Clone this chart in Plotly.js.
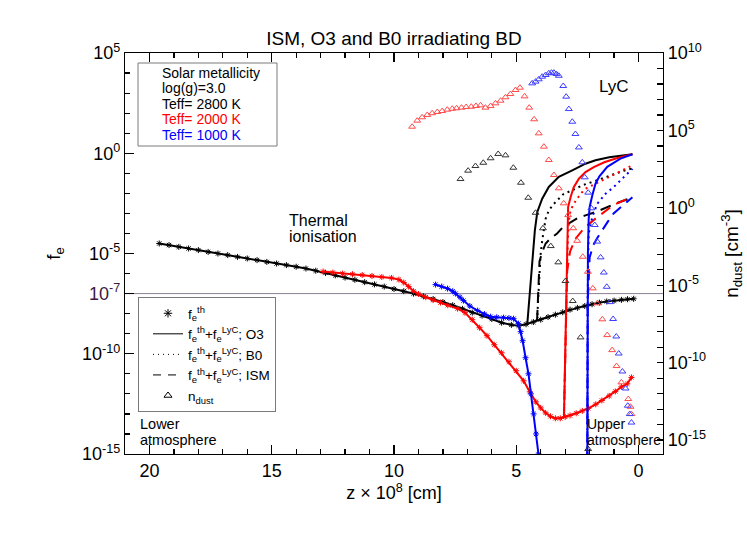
<!DOCTYPE html>
<html>
<head>
<meta charset="utf-8">
<script src="https://cdn.plot.ly/plotly-3.0.1.min.js"></script>
<style>
  html, body { margin: 0; padding: 0; background: #fff; }
  #chart { width: 747px; height: 534px; }
</style>
</head>
<body>
<div id="chart"></div>
<script>
// z in 1e8 cm, f_e and n_dust given as log10 values

// thermal ionisation (stars)
const zThBlack = [19.6, 19.2, 18.8, 18.4, 18.0, 17.6, 17.2, 16.8, 16.4, 16.0, 15.6, 15.2, 14.8, 14.4, 14.0, 13.6, 13.2, 12.8, 12.4, 12.0, 11.6, 11.2, 10.8, 10.4, 10.0, 9.6, 9.2, 8.8, 8.4, 8.0, 7.6, 7.2, 6.8, 6.4, 6.0, 5.6, 5.2, 4.9, 4.6, 4.3, 4.0, 3.7, 3.4, 3.1, 2.8, 2.5, 2.2, 1.9, 1.6, 1.3, 1.0, 0.7, 0.45, 0.2];
const lfThBlack = [-4.50, -4.58, -4.67, -4.75, -4.83, -4.92, -5.00, -5.08, -5.17, -5.25, -5.33, -5.42, -5.50, -5.58, -5.66, -5.75, -5.86, -5.97, -6.09, -6.20, -6.31, -6.43, -6.54, -6.65, -6.77, -6.88, -7.00, -7.13, -7.27, -7.42, -7.58, -7.76, -7.95, -8.10, -8.27, -8.45, -8.56, -8.60, -8.53, -8.42, -8.30, -8.17, -8.05, -7.93, -7.80, -7.71, -7.62, -7.53, -7.45, -7.39, -7.35, -7.31, -7.28, -7.26];

const zThRed = [12.9, 12.5, 12.1, 11.7, 11.3, 10.9, 10.5, 10.1, 9.8, 9.6, 9.4, 9.2, 9.0, 8.7, 8.4, 8.1, 7.8, 7.4, 7.1, 6.8, 6.5, 6.2, 5.9, 5.6, 5.3, 5.0, 4.7, 4.45, 4.2, 4.0, 3.8, 3.6, 3.4, 3.2, 3.0, 2.8, 2.55, 2.3, 2.05, 1.75, 1.5, 1.2, 0.95, 0.7, 0.46, 0.29];
const lfThRed = [-5.90, -5.95, -6.00, -6.03, -6.07, -6.12, -6.17, -6.22, -6.30, -6.45, -6.65, -6.88, -7.02, -7.18, -7.32, -7.45, -7.58, -7.75, -7.95, -8.30, -8.70, -9.10, -9.55, -9.95, -10.40, -10.85, -11.35, -11.90, -12.40, -12.70, -12.95, -13.12, -13.22, -13.22, -13.15, -13.08, -12.97, -12.85, -12.72, -12.52, -12.33, -12.10, -11.88, -11.65, -11.50, -11.18];

const zThBlue = [8.3, 8.05, 7.81, 7.6, 7.48, 7.3, 7.16, 6.9, 6.58, 6.3, 6.05, 5.8, 5.52, 5.3, 5.11, 4.91, 4.82, 4.74, 4.62, 4.5, 4.4, 4.29, 4.19, 4.09, 4.0];
const lfThBlue = [-6.55, -6.65, -6.75, -6.88, -7.0, -7.18, -7.35, -7.62, -7.85, -8.02, -8.15, -8.18, -8.2, -8.22, -8.25, -8.5, -8.9, -9.35, -10.2, -11.0, -12.0, -13.0, -14.0, -15.0, -15.9];

// thermal + LyC, O3 (solid)
const zO3Black = [4.55, 4.32, 4.24, 4.14, 3.94, 3.67, 3.26, 2.71, 2.17, 1.76, 1.2, 0.25];
const lfO3Black = [-8.52, -5.35, -3.85, -2.93, -2.27, -1.68, -1.18, -0.85, -0.52, -0.35, -0.2, -0.05];
const zO3Red = [3.05, 2.99, 2.94, 2.91, 2.88, 2.78, 2.65, 2.44, 2.17, 1.83, 1.4, 0.9, 0.25];
const lfO3Red = [-13.18, -9.0, -5.4, -3.5, -2.68, -2.19, -1.69, -1.27, -0.94, -0.69, -0.45, -0.25, -0.05];
const zO3Blue = [2.10, 2.09, 2.07, 2.04, 2.00, 1.89, 1.76, 1.60, 1.28, 0.74, 0.25];
const lfO3Blue = [-18, -9, -5.0, -3.3, -2.68, -2.10, -1.52, -1.15, -0.68, -0.27, -0.05];

// thermal + LyC, B0 (dotted)
const zB0Black = [4.15, 4.08, 4.01, 3.94, 3.87, 3.80, 3.67, 3.46, 3.26, 3.06, 2.71, 2.30, 1.89, 1.50, 1.02, 0.6, 0.25];
const lfB0Black = [-8.36, -6.8, -5.1, -4.35, -3.85, -3.27, -2.85, -2.52, -2.27, -2.02, -1.85, -1.60, -1.43, -1.25, -1.05, -0.88, -0.75];
const zB0Red = [3.05, 2.98, 2.90, 2.85, 2.78, 2.65, 2.51, 2.37, 2.17, 1.89, 1.55, 1.27, 0.74, 0.25];
const lfB0Red = [-13.18, -8.5, -4.6, -3.4, -2.85, -2.52, -2.27, -2.02, -1.77, -1.60, -1.38, -1.20, -0.88, -0.60];
const zB0Blue = [2.10, 2.08, 2.04, 1.89, 1.69, 1.35, 1.01, 0.60, 0.25];
const lfB0Blue = [-18, -7, -4.0, -3.18, -2.52, -2.02, -1.68, -1.18, -0.77];

// thermal + LyC, ISM (dashed)
const zIsmBlack = [4.15, 4.10, 4.05, 3.94, 3.80, 3.60, 3.33, 3.06, 2.78, 2.47, 2.17, 1.68, 1.02, 0.25];
const lfIsmBlack = [-8.36, -6.5, -5.4, -4.93, -4.50, -4.25, -4.0, -3.65, -3.43, -3.22, -3.10, -2.90, -2.55, -2.20];
const zIsmRed = [3.05, 2.98, 2.92, 2.80, 2.60, 2.30, 2.10, 1.75, 1.43, 1.02, 0.60, 0.25];
const lfIsmRed = [-13.18, -9.0, -5.9, -4.9, -4.3, -3.85, -3.60, -3.25, -2.95, -2.58, -2.35, -2.20];
const zIsmBlue = [2.10, 2.08, 2.00, 1.86, 1.70, 1.50, 1.25, 1.02, 0.65, 0.25];
const lfIsmBlue = [-18, -7.5, -5.2, -4.6, -4.25, -3.85, -3.40, -3.00, -2.60, -2.20];

// dust number density (triangles, right axis)
const zDustBlack = [7.28, 6.97, 6.67, 6.35, 6.05, 5.74, 5.44, 5.12, 4.81, 4.51, 4.21, 3.91, 3.59, 3.28, 2.99, 2.69, 2.37, 2.06];
const lnDustBlack = [1.86, 2.40, 2.70, 2.91, 3.20, 3.48, 3.39, 2.59, 1.62, 0.65, -0.32, -1.32, -2.47, -3.52, -4.73, -6.02, -8.37, -15.58];
const zDustRed = [9.26, 9.05, 8.85, 8.64, 8.44, 8.23, 8.03, 7.82, 7.62, 7.44, 7.24, 7.05, 6.84, 6.65, 6.46, 6.26, 6.05, 5.85, 5.64, 5.44, 5.24, 5.03, 4.85, 4.66, 4.47, 4.27, 4.08, 3.87, 3.67, 3.46, 3.26, 3.06, 2.88, 2.67, 2.51, 2.28, 2.07, 1.87, 1.69, 1.48, 1.28, 1.08, 0.90, 0.70, 0.42, 0.33, 0.29];
const lnDustRed = [5.24, 5.63, 5.85, 6.00, 6.11, 6.19, 6.25, 6.34, 6.40, 6.43, 6.47, 6.51, 6.53, 6.58, 6.62, 6.47, 6.58, 6.75, 6.92, 7.14, 7.35, 7.61, 7.76, 7.20, 6.47, 5.72, 4.81, 3.95, 3.09, 2.12, 1.26, 0.29, -0.47, -1.32, -2.13, -3.16, -4.13, -5.20, -6.17, -7.20, -8.22, -9.19, -10.22, -11.27, -12.35, -12.85, -13.32];
const zDustBlue = [4.35, 4.21, 4.08, 3.94, 3.80, 3.67, 3.56, 3.46, 3.36, 3.26, 3.08, 2.96, 2.85, 2.71, 2.58, 2.44, 2.30, 2.20, 2.06, 1.93, 1.79, 1.69, 1.55, 1.42, 1.30, 1.17, 1.04, 0.91, 0.81, 0.66, 0.53, 0.44, 0.36, 0.29];
const lnDustBlue = [8.04, 8.15, 8.30, 8.47, 8.58, 8.69, 8.73, 8.73, 8.64, 8.53, 7.87, 7.18, 6.38, 5.56, 4.77, 3.90, 2.94, 1.97, 0.98, -0.03, -1.11, -2.18, -3.20, -4.18, -5.10, -6.09, -7.18, -8.31, -9.41, -10.57, -11.67, -12.78, -13.32, -13.87];

const feRef = 1e-7;

// plot frame in pixels, used to place text labels
const L = 125, R = 663, T = 53, B = 454;
const px = x => (x - L) / (R - L);
const py = y => (B - y) / (B - T);
const pow10 = arr => arr.map(v => Math.pow(10, v));

const FONT = 'Liberation Sans, Arial, Helvetica, sans-serif';
const BLACK = '#000000', RED = '#ff0000', BLUE = '#0000ff';
const DOT = '2px,4px', DASH = '11px,7px';

function lineTrace(z, lf, color, dash) {
    return {
        x: z, y: pow10(lf), type: 'scatter', mode: 'lines',
        line: { color: color, width: 2, dash: dash },
        showlegend: false, hoverinfo: 'skip'
    };
}

function starTrace(z, lf, color) {
    return {
        x: z, y: pow10(lf), type: 'scatter', mode: 'lines+markers',
        line: { color: color, width: 2 },
        marker: { symbol: 'asterisk-open', size: 5, line: { color: color, width: 1 } },
        showlegend: false, hoverinfo: 'skip'
    };
}

function dustTrace(z, ln, color) {
    return {
        x: z, y: pow10(ln), yaxis: 'y2', type: 'scatter', mode: 'markers',
        marker: { symbol: 'triangle-up-open', size: 6, color: color, line: { color: color, width: 1 } },
        showlegend: false, hoverinfo: 'skip'
    };
}

function legendTrace(name, mode, dash, symbol) {
    const t = { x: [null], y: [null], type: 'scatter', mode: mode, name: name, hoverinfo: 'skip' };
    if (mode === 'lines') t.line = { color: BLACK, width: 1, dash: dash };
    else t.marker = { symbol: symbol, size: 7, color: BLACK, line: { color: BLACK, width: 1 } };
    return t;
}

const traces = [
    { x: [21, -1], y: [feRef, feRef], type: 'scatter', mode: 'lines',
      line: { color: '#8d7f91', width: 1 }, showlegend: false, hoverinfo: 'skip' },
    dustTrace(zDustBlack, lnDustBlack, '#333333'),
    dustTrace(zDustRed, lnDustRed, '#ff4a4a'),
    dustTrace(zDustBlue, lnDustBlue, '#3c3cff'),
    starTrace(zThBlack, lfThBlack, BLACK),
    starTrace(zThRed, lfThRed, RED),
    starTrace(zThBlue, lfThBlue, BLUE),
    lineTrace(zO3Black, lfO3Black, BLACK, 'solid'),
    lineTrace(zB0Black, lfB0Black, BLACK, DOT),
    lineTrace(zIsmBlack, lfIsmBlack, BLACK, DASH),
    lineTrace(zO3Red, lfO3Red, RED, 'solid'),
    lineTrace(zB0Red, lfB0Red, RED, DOT),
    lineTrace(zIsmRed, lfIsmRed, RED, DASH),
    lineTrace(zO3Blue, lfO3Blue, BLUE, 'solid'),
    lineTrace(zB0Blue, lfB0Blue, BLUE, DOT),
    lineTrace(zIsmBlue, lfIsmBlue, BLUE, DASH),
    legendTrace('f<sub>e</sub><sup>th</sup>', 'markers', null, 'asterisk-open'),
    legendTrace('f<sub>e</sub><sup>th</sup>+f<sub>e</sub><sup>LyC</sup>; O3', 'lines', 'solid'),
    legendTrace('f<sub>e</sub><sup>th</sup>+f<sub>e</sub><sup>LyC</sup>; B0', 'lines', '1px,4px'),
    legendTrace('f<sub>e</sub><sup>th</sup>+f<sub>e</sub><sup>LyC</sup>; ISM', 'lines', '8px,7px'),
    legendTrace('n<sub>dust</sub>', 'markers', null, 'triangle-up-open')
];

// tick positions
const xMajor = [20, 15, 10, 5, 0];
const xMinor = [];
for (let v = 21; v >= -1; v--) xMinor.push(v);
const yMajor = [1e5, 1, 1e-5, 1e-7, 1e-10, 1e-15];
const yText = ['10<sup>5</sup>', '10<sup>0</sup>', '10<sup>-5</sup>',
    '<span style="color:#3d1a3f">10<sup>-7</sup></span>', '10<sup>-10</sup>', '10<sup>-15</sup>'];
const yMinor = [];
for (let e = -15; e <= 5; e++) yMinor.push(Math.pow(10, e));
const y2Major = [1e10, 1e5, 1, 1e-5, 1e-10, 1e-15];
const y2Text = ['10<sup>10</sup>', '10<sup>5</sup>', '10<sup>0</sup>', '10<sup>-5</sup>', '10<sup>-10</sup>', '10<sup>-15</sup>'];
const y2Minor = [];
for (let e = -15; e <= 10; e++) y2Minor.push(Math.pow(10, e));

const axisBase = {
    showgrid: false, zeroline: false, showline: true,
    linecolor: BLACK, linewidth: 1.2,
    ticks: 'inside', ticklen: 9, tickwidth: 1.2, tickcolor: BLACK,
    tickfont: { family: FONT, size: 18, color: BLACK }
};

// labels inside the plot
const boxLines = ['Solar metallicity', 'log(g)=3.0', 'Teff= 2800 K', 'Teff= 2000 K', 'Teff= 1000 K'];
const boxColors = [BLACK, BLACK, BLACK, RED, BLUE];
const notes = [
    { text: 'Thermal', x: 287, y: 220, size: 16 },
    { text: 'ionisation', x: 287, y: 236, size: 16 },
    { text: 'LyC', x: 597, y: 86, size: 17 },
    { text: 'Lower', x: 138, y: 424, size: 14.5 },
    { text: 'atmosphere', x: 138, y: 440, size: 14.5 },
    { text: 'Upper', x: 585, y: 424, size: 14 },
    { text: 'atmosphere', x: 585, y: 440, size: 14 }
];

const annotations = [];
boxLines.forEach((t, i) => {
    annotations.push({
        text: t, xref: 'paper', yref: 'paper', x: px(160), y: py(72.5 + 15.6 * i),
        xanchor: 'left', yanchor: 'middle', showarrow: false,
        font: { family: FONT, size: 14, color: boxColors[i] }
    });
});
notes.forEach(n => {
    annotations.push({
        text: n.text, xref: 'paper', yref: 'paper', x: px(n.x), y: py(n.y),
        xanchor: 'left', yanchor: 'middle', showarrow: false,
        font: { family: FONT, size: n.size, color: BLACK }
    });
});

const layout = {
    width: 747, height: 534,
    margin: { l: L, r: 747 - R, t: T, b: 534 - B, pad: 0 },
    paper_bgcolor: '#ffffff', plot_bgcolor: '#ffffff',
    font: { family: FONT, color: BLACK },
    title: { text: 'ISM, O3 and B0 irradiating BD', font: { family: FONT, size: 19 }, x: 0.5, xref: 'paper', y: 1 - 38 / 534, yanchor: 'middle' },
    xaxis: Object.assign({}, axisBase, {
        range: [21, -1], mirror: 'ticks',
        tickmode: 'array', tickvals: xMajor, ticktext: xMajor.map(String),
        minor: { tickvals: xMinor, ticks: 'inside', ticklen: 5, tickwidth: 1.2, tickcolor: BLACK },
        title: { text: 'z \u00d7 10<sup>8</sup> [cm]', font: { family: FONT, size: 18 }, standoff: 2 }
    }),
    yaxis: Object.assign({}, axisBase, {
        type: 'log', range: [-15, 5],
        tickmode: 'array', tickvals: yMajor, ticktext: yText,
        minor: { tickvals: yMinor, ticks: 'inside', ticklen: 5, tickwidth: 1.2, tickcolor: BLACK },
        title: { text: 'f<sub>e</sub>', font: { family: FONT, size: 19 }, standoff: 16 }
    }),
    yaxis2: Object.assign({}, axisBase, {
        type: 'log', range: [-15.9, 10], overlaying: 'y', side: 'right',
        tickmode: 'array', tickvals: y2Major, ticktext: y2Text, ticklen: 6,
        minor: { tickvals: y2Minor, ticks: 'inside', ticklen: 6, tickwidth: 1.2, tickcolor: BLACK },
        title: { text: 'n<sub>dust</sub> [cm<sup>-3</sup>]', font: { family: FONT, size: 19 }, standoff: 19 }
    }),
    shapes: [
        { type: 'rect', xref: 'paper', yref: 'paper', x0: px(138), x1: px(277), y0: py(146), y1: py(63),
          line: { color: '#7a7a7a', width: 1 }, fillcolor: 'rgba(0,0,0,0)' }
    ],
    annotations: annotations,
    showlegend: true,
    legend: {
        x: px(138), y: py(297), xanchor: 'left', yanchor: 'top',
        bgcolor: '#ffffff', bordercolor: '#7a7a7a', borderwidth: 1,
        font: { family: FONT, size: 13.5, color: BLACK },
        traceorder: 'normal', indentation: 9
    }
};

Plotly.newPlot('chart', traces, layout, { staticPlot: true });
</script>
</body>
</html>
